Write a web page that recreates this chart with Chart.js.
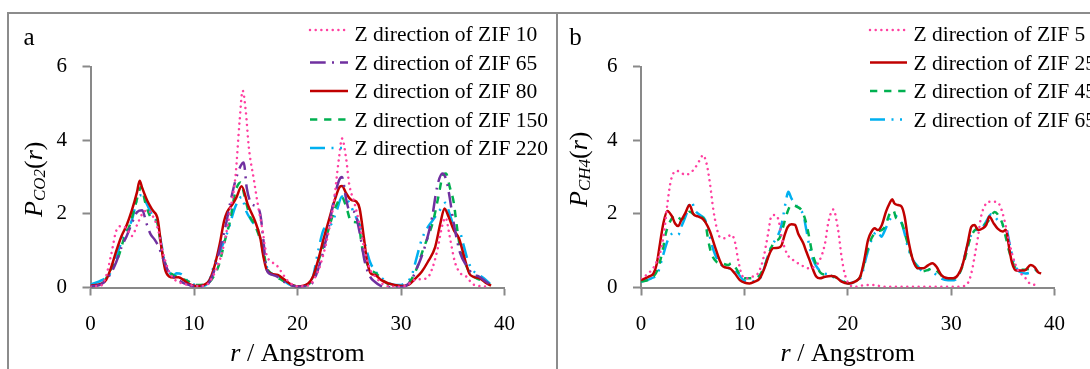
<!DOCTYPE html>
<html>
<head>
<meta charset="utf-8">
<script src="https://cdn.jsdelivr.net/npm/chart.js@4.4.1/dist/chart.umd.min.js"></script>
<style>
body { margin: 0; background: #fff; width: 1090px; height: 369px; overflow: hidden; position: relative; }
.frame { position: absolute; background: #8c8c8c; }
canvas { position: absolute; top: 0; }
</style>
</head>
<body>
<div class="frame" style="left:7px; top:12px; width:1083px; height:2px"></div>
<div class="frame" style="left:7px; top:12px; width:2px; height:357px"></div>
<div class="frame" style="left:556px; top:12px; width:2px; height:357px"></div>
<canvas id="chartA" width="556" height="369" style="left:0"></canvas>
<canvas id="chartB" width="532" height="369" style="left:558px"></canvas>
<script>
xTicks = [0, 10, 20, 30, 40]
yTicks = [0, 2, 4, 6]

// panel a - CO2, [r, P]
co2Labels = ['Z direction of ZIF 10', 'Z direction of ZIF 65', 'Z direction of ZIF 80', 'Z direction of ZIF 150', 'Z direction of ZIF 220']
co2Zif10 = [[0,0.03],[1,0.05],[1.5,0.3],[2,0.9],[2.5,1.55],[3,1.67],[3.5,1.6],[4,1.4],[4.5,1.7],[5,2.0],[5.5,2.1],[6,1.95],[6.5,1.6],[7,0.95],[7.5,0.5],[8,0.25],[8.5,0.15],[9,0.1],[10,0.05],[11,0.04],[11.5,0.15],[12,0.4],[12.5,0.75],[13,1.3],[13.5,2.1],[14,3.0],[14.4,4.5],[14.7,5.35],[15,4.8],[15.3,3.8],[15.8,2.9],[16.2,2.2],[16.6,1.6],[17,0.9],[17.5,0.7],[18,0.6],[18.5,0.4],[19,0.2],[19.5,0.08],[20,0.03],[21,0.05],[22,0.45],[22.5,0.9],[23,1.5],[23.5,2.3],[24,3.5],[24.3,4.05],[24.7,3.5],[25,2.8],[25.5,2.3],[26,1.7],[26.5,1.0],[27,0.5],[27.5,0.3],[28,0.15],[28.5,0.05],[29.5,0.02],[30.5,0.05],[31,0.15],[31.5,0.22],[32.5,0.25],[33,0.5],[33.5,1.0],[34,1.7],[34.3,1.9],[34.7,1.4],[35.2,0.7],[35.7,0.4],[36.3,0.3],[37,0.08],[38.5,0.02]]
co2Zif65 = [[0,0.03],[1,0.08],[1.5,0.2],[2,0.4],[2.5,0.7],[3,1.1],[3.5,1.4],[4,1.75],[4.5,2.05],[5,2.1],[5.4,1.75],[5.8,1.45],[6.2,1.3],[6.6,1.1],[7,0.8],[7.5,0.45],[8,0.3],[8.5,0.2],[9,0.12],[9.5,0.07],[10,0.03],[11,0.03],[11.5,0.15],[12,0.5],[12.5,1.05],[13,1.6],[13.5,2.3],[14,2.9],[14.5,3.3],[14.8,3.4],[15.1,2.7],[15.5,2.3],[16,2.2],[16.4,2.0],[16.7,1.3],[17,0.5],[17.5,0.35],[18,0.3],[18.5,0.2],[19,0.1],[19.5,0.05],[20,0.02],[21,0.05],[21.5,0.15],[22,0.5],[22.5,1.0],[23,1.6],[23.5,2.35],[24,2.9],[24.3,3.0],[24.7,2.4],[25,2.1],[25.5,2.05],[26,1.5],[26.5,0.7],[27,0.3],[27.5,0.15],[28,0.05],[28.5,0.01],[30,0.01],[30.5,0.05],[31,0.2],[31.5,0.5],[32,0.85],[32.5,1.3],[33,1.9],[33.5,2.75],[34,3.1],[34.4,2.9],[34.7,2.45],[35,1.9],[35.4,1.3],[35.7,0.95],[36.3,0.6],[37,0.35],[37.5,0.3],[38,0.2],[38.6,0.08]]
co2Zif80 = [[0,0.05],[1,0.1],[1.5,0.2],[2,0.55],[2.5,1.0],[3,1.4],[3.5,1.7],[4,2.1],[4.5,2.6],[4.75,2.9],[5,2.7],[5.5,2.35],[6,2.1],[6.5,1.85],[6.8,1.2],[7.2,0.5],[7.6,0.3],[8,0.27],[8.5,0.28],[9,0.2],[9.5,0.1],[10,0.05],[10.5,0.04],[11,0.08],[11.5,0.2],[12,0.6],[12.5,1.2],[12.9,1.8],[13.2,2.05],[13.7,2.25],[14.1,2.45],[14.6,2.75],[15.2,2.25],[15.9,1.8],[16.4,1.35],[16.7,0.85],[17,0.5],[17.5,0.37],[18.1,0.34],[18.8,0.2],[19.4,0.08],[20,0.03],[21,0.1],[21.5,0.3],[22,0.75],[22.5,1.3],[23,1.8],[23.6,2.38],[24.1,2.74],[24.3,2.76],[24.7,2.56],[25.2,2.38],[25.7,2.33],[26,2.15],[26.4,1.38],[26.7,0.75],[27.1,0.38],[27.5,0.34],[28.1,0.2],[28.8,0.11],[29.4,0.07],[30,0.04],[30.7,0.07],[31.4,0.25],[32,0.43],[32.6,0.7],[33.3,1.1],[33.8,1.74],[34.2,2.15],[34.6,1.92],[35.1,1.56],[35.6,1.34],[36.1,0.84],[36.6,0.38],[37,0.29],[37.6,0.25],[38.3,0.11],[38.7,0.05]]
co2Zif150 = [[0,0.03],[1,0.08],[1.4,0.2],[2,0.5],[2.7,0.84],[3.2,1.3],[3.8,1.7],[4.3,2.2],[4.8,2.7],[4.9,2.74],[5.3,2.3],[5.9,1.88],[6.4,1.8],[6.9,1.0],[7.4,0.52],[8,0.34],[8.8,0.25],[9.5,0.16],[10.1,0.07],[10.6,0.07],[11.5,0.15],[12,0.35],[12.4,0.61],[13,1.29],[13.5,1.83],[13.96,2.56],[14.5,2.85],[14.9,2.47],[15.4,1.93],[15.7,1.79],[16.2,1.47],[16.7,1.02],[17,0.57],[17.5,0.38],[18.5,0.2],[19.5,0.06],[20,0.03],[21,0.08],[21.5,0.25],[22,0.7],[22.7,1.29],[23.1,1.68],[23.7,2.2],[24.3,2.45],[24.7,2.2],[25.2,1.79],[25.9,1.75],[26.2,1.15],[26.85,0.57],[27.6,0.38],[28.4,0.16],[29.2,0.04],[30,0.03],[30.7,0.1],[31.5,0.5],[32.1,1.0],[33.1,1.8],[33.6,2.45],[34.1,3.08],[34.35,3.1],[34.7,2.74],[35.1,2.3],[35.4,1.65],[35.7,1.1],[36.2,0.66],[36.7,0.38],[37.3,0.25],[38.1,0.16],[38.6,0.07]]
co2Zif220 = [[0,0.08],[1.1,0.2],[2,0.43],[2.7,1.0],[3.3,1.47],[4,1.83],[4.6,2.47],[4.95,2.51],[5.4,2.29],[5.9,2.0],[6.5,1.7],[6.9,1.1],[7.2,0.66],[7.7,0.38],[8,0.32],[8.3,0.39],[8.8,0.36],[9.3,0.2],[9.8,0.11],[10.4,0.04],[11,0.05],[11.5,0.2],[12,0.66],[12.7,1.11],[13.3,1.56],[14,2.2],[14.6,2.46],[15,2.1],[15.6,1.8],[16.2,1.56],[16.5,1.2],[16.9,0.66],[17.5,0.38],[18.1,0.32],[18.8,0.16],[19.3,0.07],[20.1,0.02],[21,0.1],[21.5,0.3],[22,1.0],[22.5,1.56],[22.8,1.65],[23.3,1.74],[23.8,2.1],[24.3,2.47],[24.6,2.45],[25,2.3],[25.5,2.0],[26,1.7],[26.5,1.2],[27,0.7],[27.5,0.45],[28,0.3],[28.5,0.18],[29,0.1],[29.5,0.07],[30,0.07],[30.5,0.15],[31,0.3],[31.5,0.8],[32,1.3],[32.5,1.6],[33,1.8],[33.5,2.0],[34,2.2],[34.3,2.3],[34.7,2.0],[35.2,1.6],[35.7,1.5],[36,1.2],[36.5,0.7],[37,0.45],[37.5,0.35],[38,0.25],[38.6,0.1]]

// panel b - CH4, [r, P]
ch4Labels = ['Z direction of ZIF 5', 'Z direction of ZIF 25', 'Z direction of ZIF 45', 'Z direction of ZIF 65']
ch4Zif5 = [[0,0.25],[0.7,0.38],[1.35,0.61],[2,1.11],[2.3,1.65],[2.6,2.38],[2.9,2.92],[3.45,3.17],[3.9,3.12],[4.25,3.06],[4.7,3.1],[5.2,3.24],[5.7,3.47],[6,3.6],[6.34,3.37],[6.67,2.83],[7,2.11],[7.3,1.65],[7.6,1.38],[8.1,1.34],[8.76,1.43],[9.08,1.25],[9.4,0.75],[9.7,0.38],[10.2,0.25],[10.7,0.29],[11.3,0.38],[11.8,0.75],[12.3,1.47],[12.6,1.93],[12.9,1.97],[13.3,1.84],[13.6,1.38],[14.1,0.93],[14.7,0.75],[15.5,0.61],[16.2,0.52],[16.8,0.57],[17.3,0.75],[17.8,1.2],[18.1,1.74],[18.6,2.12],[19.07,1.56],[19.4,0.84],[19.7,0.38],[20.2,0.07],[20.7,0.02],[21.5,0.06],[22.5,0.07],[23.5,0.02],[30.5,0.02],[31,0.03],[31.6,0.11],[31.95,0.38],[32.27,0.84],[32.6,1.38],[32.9,1.93],[33.4,2.29],[33.7,2.33],[34.4,2.33],[34.7,2.24],[35,2.0],[35.3,1.65],[35.65,1.2],[35.97,0.84],[36.45,0.48],[37.1,0.29],[37.6,0.11],[38.1,0.07]]
ch4Zif25 = [[0,0.2],[0.7,0.29],[1.2,0.38],[1.5,0.61],[1.84,1.2],[2.16,1.74],[2.55,2.08],[3,1.93],[3.3,1.74],[3.6,1.67],[3.9,1.83],[4.25,2.0],[4.7,2.24],[5.05,2.0],[5.5,1.93],[5.9,1.88],[6.2,1.79],[6.67,1.52],[7.15,1.11],[7.6,0.75],[7.95,0.57],[8.6,0.52],[9.08,0.38],[9.56,0.2],[10.05,0.13],[10.5,0.11],[11,0.16],[11.5,0.25],[12,0.57],[12.45,0.93],[12.8,1.07],[13.3,1.08],[13.6,1.15],[13.9,1.43],[14.2,1.65],[14.55,1.72],[14.9,1.7],[15.2,1.47],[15.7,1.2],[16,0.97],[16.3,0.75],[16.65,0.48],[16.97,0.29],[17.3,0.25],[17.8,0.29],[18.4,0.31],[18.75,0.3],[19.4,0.16],[20.06,0.11],[20.7,0.16],[21.2,0.29],[21.6,0.75],[21.96,1.29],[22.3,1.52],[22.6,1.61],[22.9,1.56],[23.3,1.7],[23.7,2.06],[24.05,2.29],[24.3,2.4],[24.5,2.29],[24.86,2.24],[25.2,2.2],[25.5,1.93],[25.8,1.38],[26.3,0.75],[26.8,0.52],[27.3,0.52],[27.8,0.61],[28.2,0.66],[28.57,0.57],[29.05,0.34],[29.7,0.25],[30.2,0.25],[30.66,0.34],[31.1,0.61],[31.6,1.2],[31.95,1.65],[32.27,1.7],[32.6,1.56],[33.07,1.61],[33.4,1.7],[33.7,1.93],[34.1,1.75],[34.5,1.6],[35,1.52],[35.3,1.57],[35.6,1.1],[35.9,0.66],[36.3,0.46],[37.1,0.46],[37.7,0.61],[38.1,0.55],[38.4,0.42],[38.7,0.38]]
ch4Zif45 = [[0,0.16],[1,0.25],[1.6,0.48],[2.1,1.02],[2.4,1.47],[2.9,1.84],[3.4,1.97],[3.9,1.84],[4.25,1.93],[4.7,2.06],[5.2,1.97],[5.7,1.93],[6.2,1.79],[6.5,1.29],[6.8,0.93],[7.3,0.7],[7.8,0.66],[8.4,0.61],[8.76,0.66],[9.2,0.52],[9.7,0.29],[10.2,0.25],[10.85,0.25],[11.5,0.34],[12,0.61],[12.5,1.02],[12.95,1.25],[13.4,1.34],[13.75,1.65],[14.1,2.0],[14.55,2.24],[15.05,2.2],[15.5,2.11],[15.85,1.88],[16.2,1.47],[16.5,1.02],[16.97,0.61],[17.45,0.38],[18.1,0.34],[18.7,0.29],[19.4,0.2],[20.06,0.11],[20.7,0.16],[21.3,0.34],[21.8,0.93],[22.3,1.34],[22.8,1.52],[23.25,1.56],[23.6,1.65],[24.05,2.0],[24.4,2.1],[24.7,1.88],[25.05,1.84],[25.4,1.61],[25.7,1.29],[26.2,0.84],[26.65,0.57],[27.1,0.43],[27.8,0.48],[28.2,0.52],[28.7,0.43],[29.2,0.29],[29.7,0.25],[30.3,0.25],[30.8,0.38],[31.3,0.75],[31.8,1.29],[32.3,1.56],[32.8,1.61],[33.2,1.7],[33.7,1.84],[34.2,2.05],[34.6,1.95],[35,1.7],[35.3,1.35],[35.6,1.0],[36,0.65],[36.45,0.48],[37.1,0.48],[37.9,0.52],[38.4,0.43]]
ch4Zif65 = [[0,0.16],[1,0.25],[1.6,0.38],[2.1,0.84],[2.6,1.29],[3.1,1.47],[3.6,1.43],[3.9,1.65],[4.4,2.0],[4.7,2.29],[4.9,2.33],[5.2,2.11],[5.7,1.97],[6.2,1.84],[6.5,1.56],[7,1.02],[7.5,0.7],[8,0.57],[8.4,0.52],[8.9,0.52],[9.4,0.38],[9.9,0.2],[10.5,0.16],[11.2,0.2],[11.7,0.34],[12.1,0.7],[12.6,1.11],[13.1,1.34],[13.5,1.6],[13.75,1.93],[14.1,2.47],[14.25,2.6],[14.55,2.42],[14.9,2.29],[15.2,2.15],[15.7,1.97],[16,1.56],[16.3,1.11],[16.65,0.75],[17.1,0.52],[17.8,0.38],[18.4,0.34],[18.75,0.25],[19.4,0.18],[20.06,0.11],[20.7,0.16],[21.3,0.29],[21.8,0.84],[22.3,1.29],[22.6,1.47],[22.9,1.52],[23.25,1.38],[23.6,1.56],[24.05,1.84],[24.5,1.97],[24.9,1.88],[25.2,1.75],[25.5,1.47],[25.8,1.11],[26.3,0.75],[26.8,0.57],[27.3,0.43],[27.9,0.48],[28.4,0.38],[29,0.25],[29.7,0.2],[30.3,0.2],[30.8,0.38],[31.3,0.84],[31.8,1.34],[32.27,1.52],[32.8,1.61],[33.2,1.7],[33.56,1.88],[33.9,2.0],[34.2,1.93],[34.6,1.8],[35,1.7],[35.3,1.65],[35.65,1.2],[36.1,0.66],[36.6,0.43],[37.2,0.38],[37.9,0.43],[38.2,0.48]]

fonte = '"Liberation Serif", "Times New Roman", serif'
corEixo = '#898989'

// line looks
pontilhado = { borderColor: '#ff3fa0', borderDash: [0.01, 5.67], borderCapStyle: 'round' }
tracoPonto = { borderColor: '#7030a0', borderDash: [15.7, 6.3, 2, 6] }
solido = { borderColor: '#c00000', borderDash: [] }
tracejado = { borderColor: '#00b050', borderDash: [7.3, 6.8] }
tracoDoisPontos = { borderColor: '#00b0f0', borderDash: [15, 6.5, 2, 6.5, 2, 6.5] }

function makeDataset(label, pontos, estilo) {
	return Object.assign({
		label: label,
		data: pontos.map(p => ({ x: p[0], y: p[1] })),
		borderWidth: 2.5,
		borderCapStyle: 'butt',
		pointRadius: 0,
		fill: false,
		cubicInterpolationMode: 'monotone'
	}, estilo)
}

// letter, legend, axis titles (with subscript)
decorPlugin = {
	id: 'decor',
	afterDraw(chart, args, opts) {
		const ctx = chart.ctx
		const area = chart.chartArea
		ctx.save()
		ctx.fillStyle = '#000'
		ctx.textBaseline = 'alphabetic'

		ctx.font = '25px ' + fonte
		ctx.textAlign = 'center'
		ctx.fillText(opts.letter, opts.letterX, 45)

		ctx.textAlign = 'left'
		chart.data.datasets.forEach((ds, i) => {
			const y = 34 + i * 28.5
			// first sample sits a bit high in the original
			const yLinha = i === 0 ? y - 4 : y
			ctx.beginPath()
			ctx.setLineDash(ds.borderDash)
			ctx.lineCap = ds.borderCapStyle
			ctx.strokeStyle = ds.borderColor
			ctx.lineWidth = ds.borderWidth
			ctx.moveTo(opts.lineX0, yLinha)
			ctx.lineTo(opts.lineX1, yLinha)
			ctx.stroke()
			ctx.setLineDash([])
			ctx.font = '21.5px ' + fonte
			ctx.fillText(ds.label, opts.textX, y + 7.3)
		})

		// x title: r / Angstrom
		const cx = (area.left + area.right) / 2
		ctx.font = 'italic 26px ' + fonte
		const w1 = ctx.measureText('r').width
		ctx.font = '26px ' + fonte
		const w2 = ctx.measureText(' / Angstrom').width
		let x = cx - (w1 + w2) / 2
		ctx.font = 'italic 26px ' + fonte
		ctx.fillText('r', x, 361)
		ctx.font = '26px ' + fonte
		ctx.fillText(' / Angstrom', x + w1, 361)

		// y title: P_sub(r)
		ctx.translate(opts.yTitleX, opts.yTitleBottom)
		ctx.rotate(-Math.PI / 2)
		const partes = [
			['italic 26px ', 'P', 0],
			['italic 17px ', opts.sub, 3],
			['26px ', '(', 0],
			['italic 26px ', 'r', 0],
			['26px ', ')', 0]
		]
		x = 0
		partes.forEach(p => {
			ctx.font = p[0] + fonte
			ctx.fillText(p[1], x, p[2])
			x += ctx.measureText(p[1]).width
		})
		ctx.restore()
	}
}

function makeConfig(datasets, decor, yWidth, rightPad) {
	return {
		type: 'line',
		data: { datasets: datasets },
		options: {
			responsive: false,
			animation: false,
			devicePixelRatio: 1,
			layout: { padding: { left: 0, top: 66.7, right: rightPad, bottom: 0 } },
			plugins: {
				legend: { display: false },
				tooltip: { enabled: false },
				decor: decor
			},
			scales: {
				x: {
					type: 'linear',
					min: 0,
					max: 40,
					afterBuildTicks: s => { s.ticks = xTicks.map(v => ({ value: v })) },
					afterFit: s => { s.height = 81.5 },
					border: { color: corEixo, width: 2 },
					grid: { drawOnChartArea: false, drawTicks: true, tickLength: 8, tickColor: corEixo, tickWidth: 2, color: corEixo },
					ticks: { padding: 16.5, maxRotation: 0, color: '#000', font: { family: fonte, size: 21 } }
				},
				y: {
					min: 0,
					max: 6,
					afterBuildTicks: s => { s.ticks = yTicks.map(v => ({ value: v })) },
					afterFit: s => { s.width = yWidth },
					border: { color: corEixo, width: 2 },
					grid: { drawOnChartArea: false, drawTicks: true, tickLength: 8, tickColor: corEixo, tickWidth: 2, color: corEixo },
					ticks: { padding: 15.5, color: '#000', font: { family: fonte, size: 21 } }
				}
			}
		},
		plugins: [decorPlugin]
	}
}

setsA = [
	makeDataset(co2Labels[0], co2Zif10, pontilhado),
	makeDataset(co2Labels[1], co2Zif65, tracoPonto),
	makeDataset(co2Labels[2], co2Zif80, solido),
	makeDataset(co2Labels[3], co2Zif150, tracejado),
	makeDataset(co2Labels[4], co2Zif220, tracoDoisPontos)
]
setsB = [
	makeDataset(ch4Labels[0], ch4Zif5, pontilhado),
	makeDataset(ch4Labels[1], ch4Zif25, solido),
	makeDataset(ch4Labels[2], ch4Zif45, tracejado),
	makeDataset(ch4Labels[3], ch4Zif65, tracoDoisPontos)
]

new Chart(document.getElementById('chartA').getContext('2d'), makeConfig(setsA,
	{ letter: 'a', letterX: 29, lineX0: 310, lineX1: 348, textX: 354.5, sub: 'CO2', yTitleX: 41.5, yTitleBottom: 217 },
	90.5, 51.5))

new Chart(document.getElementById('chartB').getContext('2d'), makeConfig(setsB,
	{ letter: 'b', letterX: 17.5, lineX0: 312, lineX1: 349, textX: 355.4, sub: 'CH4', yTitleX: 28.5, yTitleBottom: 207 },
	83, 35.5))
</script>
</body>
</html>
